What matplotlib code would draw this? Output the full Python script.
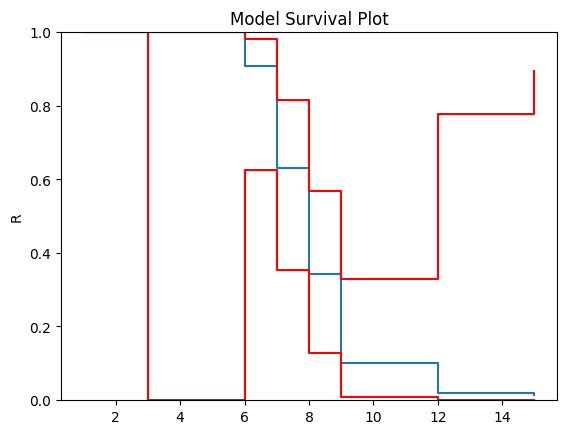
import matplotlib
matplotlib.use("Agg")
import matplotlib.pyplot as plt

times = [1, 3, 6, 7, 8, 9, 12, 15]
survival = [1.0, 1.0, 0.907, 0.630, 0.342, 0.100, 0.019, 0.014]
upper = [1.0, 1.0, 0.982, 0.814, 0.567, 0.330, 0.778, 0.893]
lower = [1.0, 0.0, 0.624, 0.354, 0.128, 0.007, 0.001, 0.0]

fig = plt.figure(figsize=(5.67, 4.35), dpi=100)
ax = fig.add_axes([61/567, 1-401/435, (557-61)/567, (401-33)/435])
ax.step(times, survival, where="post")
ax.step(times, upper, where="post", color="red")
ax.step(times, lower, where="post", color="red")
ax.set_ylim(0, 1)
ax.set_ylabel("R")
ax.set_title("Model Survival Plot")
fig.savefig("out.png", dpi=100)
